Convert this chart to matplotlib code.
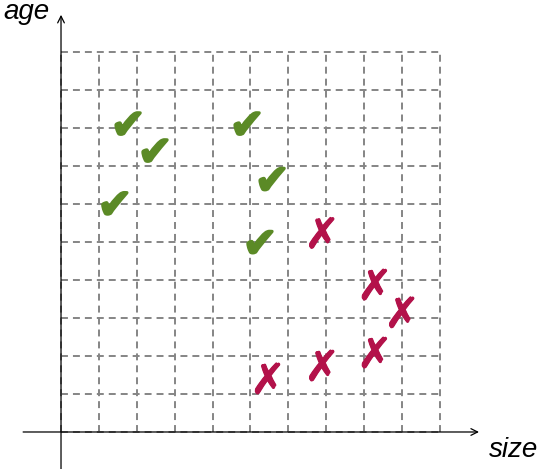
import matplotlib
matplotlib.use("Agg")
import matplotlib.pyplot as plt
import matplotlib.patheffects as pe

# grid extent and marks (grid units)
grid_n = 10
good_x = [1.77, 2.48, 4.91, 5.57, 1.42, 5.25]
good_y = [8.04, 7.33, 8.04, 6.58, 5.94, 4.92]
bad_x = [6.89, 8.28, 9.00, 8.28, 6.89, 5.46]
bad_y = [5.16, 3.80, 3.07, 2.01, 1.67, 1.33]

plt.rcParams['lines.scale_dashes'] = False

fig = plt.figure(figsize=(5.4, 4.69), dpi=100)
ax = fig.add_axes([0, 0, 1, 1])
ax.set_xlim(-1.61, 12.64)
ax.set_ylim(-0.974, 11.37)
ax.axis('off')

grid_style = dict(color='#858585', lw=1.4, ls=(0, (5, 3.6)), zorder=1)
for i in range(grid_n + 1):
    ax.plot([i, i], [0, grid_n], **grid_style)
    ax.plot([0, grid_n], [i, i], **grid_style)

arrow = dict(arrowstyle='->', lw=0.9, color='black', shrinkA=0, shrinkB=0,
             mutation_scale=12)
ax.annotate('', xy=(11.03, 0), xytext=(-1.0, 0), arrowprops=arrow, zorder=2)
ax.annotate('', xy=(0, 10.98), xytext=(0, -1.0), arrowprops=arrow, zorder=2)

ax.text(-1.53, 10.87, 'age', fontsize=20, style='italic',
        family='Liberation Sans', ha='left', va='baseline')
ax.text(12.6, -0.66, 'size', fontsize=20, style='italic',
        family='Liberation Sans', ha='right', va='baseline')

green = '#5b8a26'
red = '#b3124a'
for x, y in zip(good_x, good_y):
    ax.text(x, y, '\u2714', fontsize=30, color=green, ha='center', va='center',
            zorder=3, path_effects=[pe.withStroke(linewidth=1.5, foreground=green)])
for x, y in zip(bad_x, bad_y):
    ax.text(x, y, '\u2717', fontsize=30, fontweight='bold', color=red,
            ha='center', va='center', zorder=3,
            path_effects=[pe.withStroke(linewidth=0.8, foreground=red)])

fig.savefig('out.png', dpi=100)
